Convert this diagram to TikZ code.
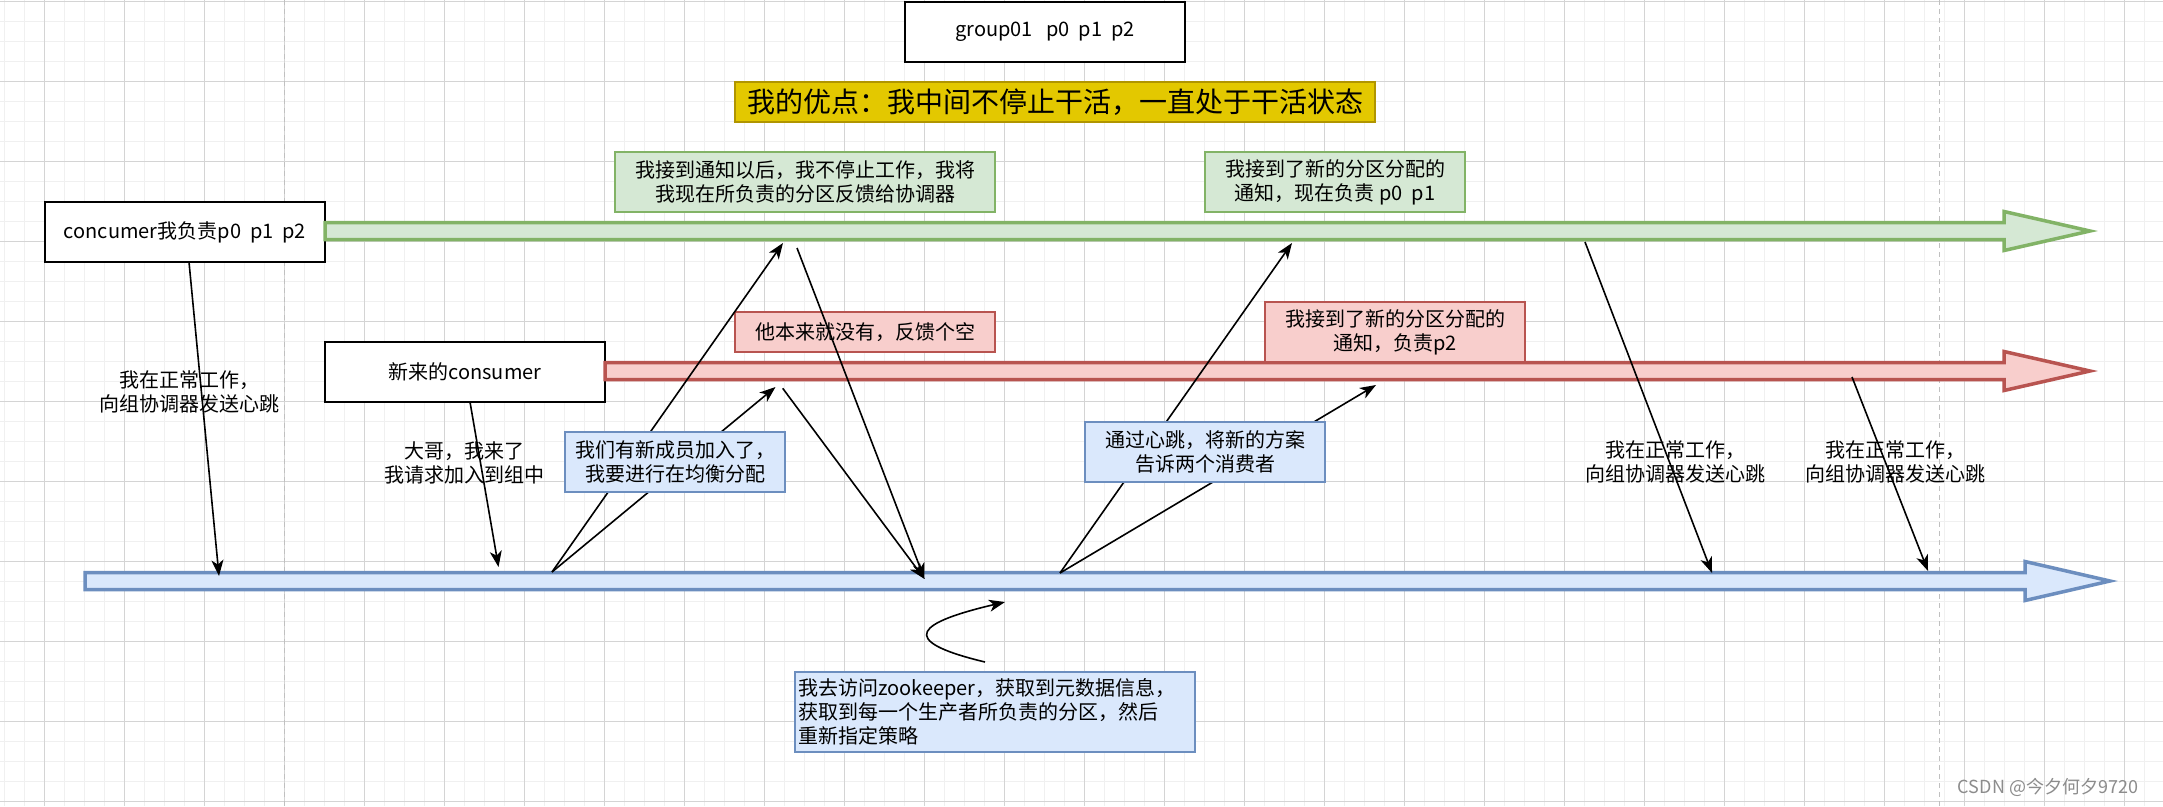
\documentclass[tikz,border=0pt]{standalone}
\usepackage{fontspec}
\setmainfont{Noto Sans CJK SC}
\usetikzlibrary{arrows.meta}
\definecolor{gfill}{HTML}{D5E8D4}\definecolor{gline}{HTML}{82B366}
\definecolor{rfill}{HTML}{F8CECC}\definecolor{rline}{HTML}{B85450}
\definecolor{bfill}{HTML}{DAE8FC}\definecolor{bline}{HTML}{6C8EBF}
\definecolor{yfill}{HTML}{E3C800}\definecolor{yline}{HTML}{B09500}
\definecolor{gridminor}{HTML}{F0F0F0}\definecolor{gridmajor}{HTML}{D4D4D4}
\definecolor{pagebreak}{HTML}{C0C0C0}\definecolor{wm}{HTML}{8C8C8C}
\begin{document}
\begin{tikzpicture}[x=1pt,y=-1pt,
  txt/.style={font=\fontsize{20}{24}\selectfont, align=center, inner sep=0pt},
  plainbox/.style={txt, draw=black, fill=white, line width=2pt},
  greenbox/.style={txt, draw=gline, fill=gfill, line width=2pt},
  redbox/.style={txt, draw=rline, fill=rfill, line width=2pt},
  bluebox/.style={txt, draw=bline, fill=bfill, line width=2pt},
  titlebox/.style={font=\fontsize{28}{32}\selectfont, inner sep=0pt, draw=yline, fill=yfill, line width=2pt},
  bigarrow/.style={line width=3.5pt, line join=miter},
  conn/.style={line width=1.6pt, -{Stealth[length=16pt,width=12pt,inset=4.5pt]}},
  minorgrid/.style={draw=gridminor, line width=1pt},
  majorgrid/.style={draw=gridmajor, line width=1pt},
  pgbreak/.style={draw=pagebreak, line width=1.5pt, dash pattern=on 5pt off 4pt}]
\useasboundingbox (0,0) rectangle (2163,806);
\fill[white] (0,0) rectangle (2163,806);
% grid
\foreach \x in {4.5,24.5,...,2164.5} \draw[minorgrid] (\x,0) -- (\x,806);
\foreach \y in {1.3,21.3,...,805.3} \draw[minorgrid] (0,\y) -- (2163,\y);
\foreach \x in {44.5,124.5,...,2124.5} \draw[majorgrid] (\x,0) -- (\x,806);
\foreach \y in {1.3,81.3,...,801.3} \draw[majorgrid] (0,\y) -- (2163,\y);
% page breaks
\draw[pgbreak] (284.7,0) -- (284.7,806);
\draw[pgbreak] (1939.4,0) -- (1939.4,806);

% nodes (positions)
\node[plainbox, minimum width=280, minimum height=60] (c) at (185,232) {concumer我负责p0\ \ p1\ \ p2};
\node[plainbox, minimum width=280, minimum height=60] (n) at (465,372) {新来的consumer};

% big arrows
\draw[bigarrow, draw=gline, fill=gfill] (325,222.5) -- (2004,222.5) -- (2004,211.5) -- (2090,231) -- (2004,250.5) -- (2004,239.5) -- (325,239.5) -- cycle;
\draw[bigarrow, draw=rline, fill=rfill] (605,362.5) -- (2004,362.5) -- (2004,351.5) -- (2090,371) -- (2004,390.5) -- (2004,379.5) -- (605,379.5) -- cycle;
\draw[bigarrow, draw=bline, fill=bfill] (85,572.5) -- (2025,572.5) -- (2025,561.5) -- (2110,581) -- (2025,600.5) -- (2025,589.5) -- (85,589.5) -- cycle;

% red box under line
\node[redbox, minimum width=260, minimum height=40] (rb1) at (865,332) {他本来就没有，反馈个空};

% connector end points
\coordinate (cs) at (189,262);
\coordinate (ct) at (219,576);
\coordinate (ns) at (470,402);
\coordinate (nt) at (498.5,567);
\coordinate (p1) at (552,572);
\coordinate (g1) at (783,243);
\coordinate (r1) at (775.5,387);
\coordinate (g2) at (797,248);
\coordinate (r2) at (782.7,388.3);
\coordinate (b1) at (924.5,579);
\coordinate (p2) at (1060,573);
\coordinate (g3) at (1292,243);
\coordinate (r3) at (1376,385);
\coordinate (zs) at (985,662);
\coordinate (zt) at (1005,602);
\coordinate (g4) at (1585,242);
\coordinate (b4) at (1712,573);
\coordinate (r5) at (1852,377);
\coordinate (b5) at (1928,571);

% connectors
\draw[conn] (cs) -- (ct);
\draw[conn] (ns) -- (nt);
\draw[conn] (p1) -- (g1);
\draw[conn] (p1) -- (r1);
\draw[conn] (g2) -- (b1);
\draw[conn] (r2) -- (b1);
\draw[conn] (p2) -- (g3);
\draw[conn] (p2) -- (r3);
\draw[conn] (zs) .. controls (893,640) and (920,622) .. (zt);
\draw[conn] (g4) -- (b4);
\draw[conn] (r5) -- (b5);

% labels on connectors
\node[txt] (l1) at (189,392) {我在正常工作，\\向组协调器发送心跳};
\node[txt] (l2) at (464,462.5) {大哥，我来了\\我请求加入到组中};
\node[txt] (l3) at (1675,462) {我在正常工作，\\向组协调器发送心跳};
\node[txt] (l4) at (1895,462) {我在正常工作，\\向组协调器发送心跳};

% boxes
\node[plainbox, minimum width=280, minimum height=60] (grp) at (1045,32) {group01\ \ \ p0\ \ p1\ \ p2};
\node[titlebox, minimum width=640, minimum height=40] (title) at (1055,102) {我的优点：我中间不停止干活，一直处于干活状态};
\node[greenbox, minimum width=380, minimum height=60] (gb1) at (805,182) {我接到通知以后，我不停止工作，我将\\我现在所负责的分区反馈给协调器};
\node[greenbox, minimum width=260, minimum height=60] (gb2) at (1335,182) {我接到了新的分区分配的\\通知，现在负责 p0\ \ p1};
\node[redbox, minimum width=260, minimum height=60] (rb2) at (1395,332) {我接到了新的分区分配的\\通知，负责p2};
\node[bluebox, minimum width=220, minimum height=60] (bb1) at (675,462) {我们有新成员加入了，\\我要进行在均衡分配};
\node[bluebox, minimum width=240, minimum height=60] (bb2) at (1205,452) {通过心跳，将新的方案\\告诉两个消费者};
\node[bluebox, minimum width=400, minimum height=80, align=left, text width=394, inner xsep=3] (bb3) at (995,712) {我去访问zookeeper，获取到元数据信息，\\获取到每一个生产者所负责的分区，然后\\重新指定策略};

% watermark
\node[font=\fontsize{18}{20}\selectfont, text=wm, inner sep=0pt] (wmk) at (2048,787) {CSDN @今夕何夕9720};
\end{tikzpicture}
\end{document}
